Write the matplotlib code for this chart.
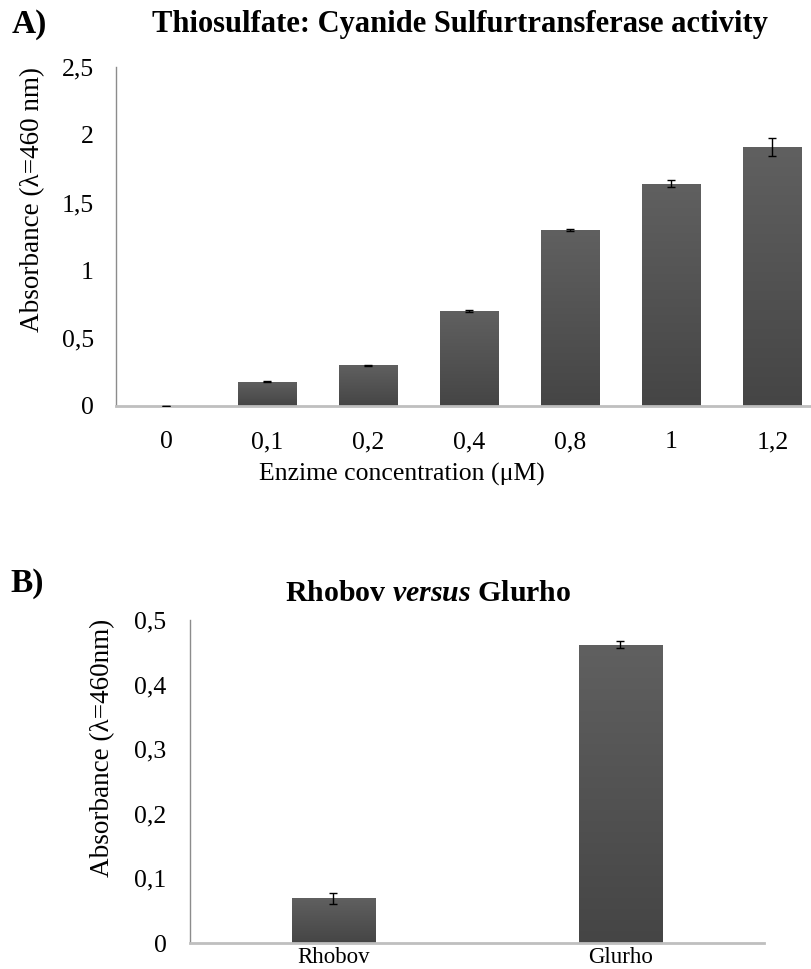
import numpy as np
import matplotlib
matplotlib.use("Agg")
import matplotlib.pyplot as plt
from matplotlib.colors import LinearSegmentedColormap

plt.rcParams["font.family"] = ["Liberation Serif", "DejaVu Serif"]
plt.rcParams["mathtext.fontset"] = "custom"
plt.rcParams["mathtext.it"] = "Liberation Serif:italic:bold"
plt.rcParams["mathtext.rm"] = "Liberation Serif:bold"

# Panel A: thiosulfate:cyanide sulfurtransferase activity
conc_labels = ["0", "0,1", "0,2", "0,4", "0,8", "1", "1,2"]
activity = [0.0, 0.18, 0.30, 0.70, 1.30, 1.64, 1.91]
activity_err = [0.003, 0.004, 0.006, 0.005, 0.008, 0.025, 0.07]
yticks_a = [0, 0.5, 1.0, 1.5, 2.0, 2.5]
yticklabels_a = ["0", "0,5", "1", "1,5", "2", "2,5"]

# Panel B: Rhobov vs Glurho
enzymes = ["Rhobov", "Glurho"]
absorb_b = [0.069, 0.462]
absorb_b_err = [0.008, 0.006]
yticks_b = [0, 0.1, 0.2, 0.3, 0.4, 0.5]
yticklabels_b = ["0", "0,1", "0,2", "0,3", "0,4", "0,5"]

W, H = 812, 969
fig = plt.figure(figsize=(W / 100, H / 100), dpi=100)

TICK_FS = 18.5
LABEL_FS = 19.5

grad_cmap = LinearSegmentedColormap.from_list("bargrad", ["#454545", "#606060"])
grad = np.linspace(0, 1, 256).reshape(-1, 1)


def gradient_bars(ax, x, vals, width):
    bars = ax.bar(x, vals, width=width, color="#555555", zorder=2)
    for b, v in zip(bars, vals):
        if v <= 0:
            continue
        x0 = b.get_x()
        im = ax.imshow(grad, extent=(x0, x0 + width, 0, v), origin="lower",
                       aspect="auto", cmap=grad_cmap, zorder=2.5)
        im.set_clip_path(b)
    return bars


def style_axes(ax):
    for s in ("top", "right"):
        ax.spines[s].set_visible(False)
    ax.spines["left"].set_color("#8c8c8c")
    ax.spines["left"].set_linewidth(1.0)
    ax.spines["bottom"].set_color("#bfbfbf")
    ax.spines["bottom"].set_linewidth(2.0)
    ax.spines["bottom"].set_zorder(3)


def px_axes(left, right, top, bottom):
    return fig.add_axes([left / W, 1 - bottom / H, (right - left) / W, (bottom - top) / H])


def fx(px):
    return px / W


def fy(px):
    return 1 - px / H


# ---- Panel A ----
axA = px_axes(116, 823, 67, 406)
xa = np.arange(len(conc_labels))
gradient_bars(axA, xa, activity, 0.575)
axA.errorbar(xa, activity, yerr=activity_err, fmt="none", ecolor="black",
             elinewidth=1.0, capsize=3, capthick=1.0, zorder=4)
axA.set_xlim(-0.5, len(conc_labels) - 0.5)
axA.set_ylim(0, 2.5)
axA.set_xticks(xa)
axA.set_xticklabels(conc_labels)
axA.set_yticks(yticks_a)
axA.set_yticklabels(yticklabels_a)
axA.tick_params(axis="both", length=0, labelsize=TICK_FS)
axA.tick_params(axis="x", pad=18)
axA.tick_params(axis="y", pad=16)
style_axes(axA)

fig.text(fx(33), fy(200), "Absorbance (λ=460 nm)", fontsize=LABEL_FS,
         rotation=90, va="center", ha="center")
fig.text(fx(12), fy(33), "A)", fontsize=24, fontweight="bold",
         va="baseline", ha="left")
fig.text(fx(460), fy(32), "Thiosulfate: Cyanide Sulfurtransferase activity",
         fontsize=22, fontweight="bold", va="baseline", ha="center")
fig.text(fx(402), fy(474), "Enzime concentration (μM)", fontsize=TICK_FS,
         va="center", ha="center")

# ---- Panel B ----
axB = px_axes(190, 764, 620, 943)
xb = np.arange(len(enzymes))
gradient_bars(axB, xb, absorb_b, 0.29)
axB.errorbar(xb, absorb_b, yerr=absorb_b_err, fmt="none", ecolor="black",
             elinewidth=1.0, capsize=3, capthick=1.0, zorder=4)
axB.set_xlim(-0.5, len(enzymes) - 0.5)
axB.set_ylim(0, 0.5)
axB.set_xticks(xb)
axB.set_xticklabels(enzymes)
axB.set_yticks(yticks_b)
axB.set_yticklabels(yticklabels_b)
axB.tick_params(axis="y", length=0, labelsize=TICK_FS, pad=17)
axB.tick_params(axis="x", length=0, labelsize=16.5, pad=3)
style_axes(axB)

fig.text(fx(103), fy(748), "Absorbance (λ=460nm)", fontsize=LABEL_FS,
         rotation=90, va="center", ha="center")
fig.text(fx(10), fy(592), "B)", fontsize=24, fontweight="bold",
         va="baseline", ha="left")
fig.text(fx(428), fy(601), "Rhobov $\\mathit{versus}$ Glurho",
         fontsize=21.5, fontweight="bold", va="baseline", ha="center")

fig.savefig("out.png", dpi=100)
